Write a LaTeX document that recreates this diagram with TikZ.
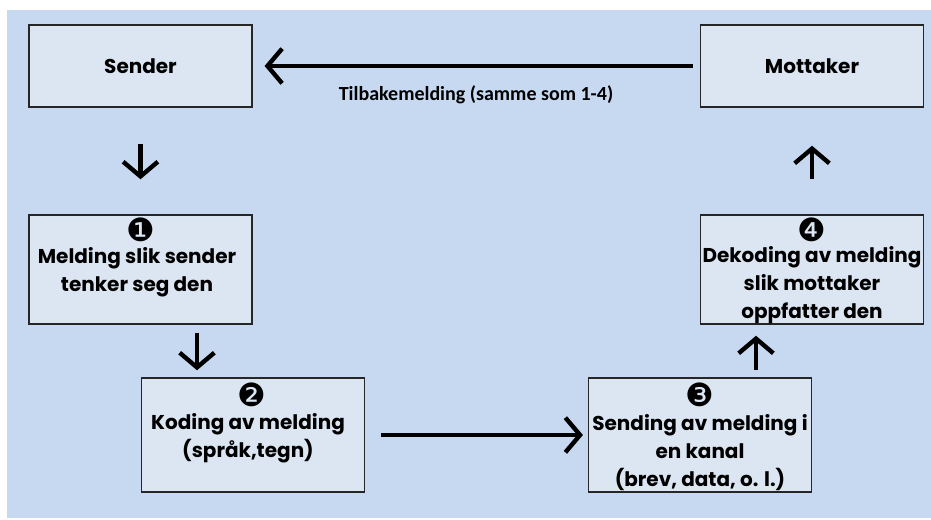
\documentclass[tikz,border=0pt]{standalone}
\usepackage{fontspec}
\setmainfont{Poppins}
\newfontfamily\labelfont{Carlito}
\newfontfamily\numfont{DejaVu Sans}
\usetikzlibrary{arrows.meta}
\definecolor{bakgrunn}{HTML}{C6D9F1}
\definecolor{boksfarge}{HTML}{DCE6F2}
\begin{document}
\begin{tikzpicture}
    [x=0.75pt, y=-0.75pt,
    boks/.style = {draw=black!85, fill=boksfarge, line width=1.1pt,
                   minimum width=167pt, inner sep=0pt},
    tekst/.style = {align=center, inner sep=0pt,
                    font=\fontsize{15}{21}\selectfont\bfseries},
    nr/.style = {inner sep=0pt, font=\numfont\fontsize{24}{24}\selectfont},
    pil/.style = {-{Straight Barb[length=11pt,width=26pt]}, line width=3.3pt}]
    \useasboundingbox (0,0) rectangle (931,519);
    \fill[white] (0,0) rectangle (931,519);
    \fill[bakgrunn] (7,10) rectangle (931,518);
    % Avsender og mottaker
    \node[boks, minimum height=61.5pt, tekst] (sender) at (140.5,66) {Sender};
    \node[boks, minimum height=61.5pt, tekst] (mottaker) at (812,66) {Mottaker};
    % Trinn 1-4
    \node[boks, minimum height=81.75pt] (b1) at (140.5,269.5) {};
    \node[boks, minimum height=85.5pt] (b2) at (253,435) {};
    \node[boks, minimum height=85.5pt] (b3) at (700,435) {};
    \node[boks, minimum height=81.75pt] (b4) at (812,269.5) {};
    \node[nr] (n1) at (141,230) {❶};
    \node[nr] (n2) at (252,395) {❷};
    \node[nr] (n3) at (700,395) {❸};
    \node[nr] (n4) at (812,230) {❹};
    \node[tekst] (t1) at (137,272) {Melding slik sender\\tenker seg den};
    \node[tekst] (t2) at (248,438) {Koding av melding\\(språk,tegn)};
    \node[tekst] (t3) at (700,452.5) {Sending av melding i\\en kanal\\(brev, data, o. l.)};
    \node[tekst] (t4) at (812,285) {Dekoding av melding\\slik mottaker\\oppfatter den};
    % Tilbakemelding
    \node[font=\labelfont\bfseries\fontsize{15}{15}\selectfont] (tilbake) at (476,95)
        {Tilbakemelding (samme som 1-4)};
    \coordinate (k1) at (197,0);
    \coordinate (k3) at (756,0);
    \draw[pil, shorten <=5.25pt, shorten >=9pt] (mottaker.west) -- (sender.east);
    \draw[pil, shorten <=27pt, shorten >=26.25pt] (sender.south) -- (b1.north);
    \draw[pil, shorten <=6pt, shorten >=5.25pt] (b1.south -| k1) -- (b2.north -| k1);
    \draw[pil, shorten <=12pt, shorten >=3.75pt] (b2.east) -- (b3.west);
    \draw[pil, shorten <=5.25pt, shorten >=8.25pt] (b3.north -| k3) -- (b4.south -| k3);
    \draw[pil, shorten <=26.25pt, shorten >=28.5pt] (b4.north) -- (mottaker.south);
\end{tikzpicture}
\end{document}
